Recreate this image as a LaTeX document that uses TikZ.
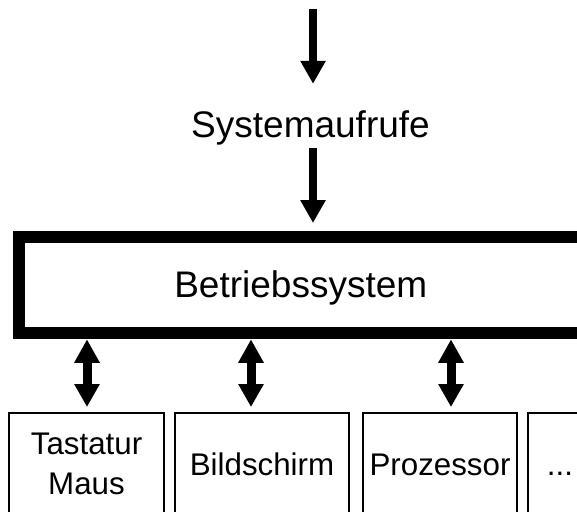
\documentclass[tikz,border=0pt]{standalone}
\usepackage{fontspec}
\setmainfont{Liberation Sans}
\usetikzlibrary{arrows.meta}
\tikzset{
  bigfont/.style={font=\fontsize{37}{44}\selectfont},
  smallfont/.style={font=\fontsize{31.3}{40}\selectfont},
  osbox/.style={draw, line width=12pt, inner sep=0pt, bigfont,
    minimum width=564.5pt, minimum height=96pt,
    text height=26.6pt, text depth=0pt},
  devbox/.style={draw, line width=2pt, inner sep=0pt, smallfont,
    minimum height=102pt, align=center},
  oneline/.style={text height=22.4pt, text depth=0pt},
  label/.style={inner sep=0pt, bigfont, text height=26.6pt, text depth=0pt},
  flow/.style={line width=8pt,
    -{Triangle[width=24pt,length=23pt]}},
  duplex/.style={line width=9pt,
    {Triangle[width=24pt,length=23.5pt]}-{Triangle[width=24pt,length=23pt]}},
}
\begin{document}
\begin{tikzpicture}[x=1pt,y=-1pt]
  \useasboundingbox (0,0) rectangle (577,511);
  \clip (0,0) rectangle (577,511);

  % system call interface
  \coordinate (in) at (313,9);
  \node[label] (sys) at (310.5,123.7) {Systemaufrufe};

  % operating system block
  \node[osbox] (os) at (300.75,284.5) {Betriebssystem};

  % devices
  \node[devbox, minimum width=155pt] (tast) at (86.5,464) {Tastatur\\Maus};
  \node[devbox, oneline, minimum width=174pt] (bild) at (262,464) {Bildschirm};
  \node[devbox, oneline, minimum width=154pt] (proz) at (440,464) {Prozessor};
  \node[devbox, oneline, minimum width=64pt] (more) at (560,464) {...};

  % calls into the system
  \draw[flow, shorten >=26.4pt] (in) -- (in |- sys.north);
  \draw[flow, shorten <=11pt, shorten >=7.5pt] (sys.south -| in) -- (os.north -| in);

  % device access
  \coordinate (a1) at (87,0);
  \coordinate (a2) at (251,0);
  \coordinate (a3) at (451,0);
  \draw[duplex, shorten <=0.8pt, shorten >=5pt] (os.south -| a1) -- (tast.north -| a1);
  \draw[duplex, shorten <=0.8pt, shorten >=5pt] (os.south -| a2) -- (bild.north -| a2);
  \draw[duplex, shorten <=0.8pt, shorten >=5pt] (os.south -| a3) -- (proz.north -| a3);
\end{tikzpicture}
\end{document}
